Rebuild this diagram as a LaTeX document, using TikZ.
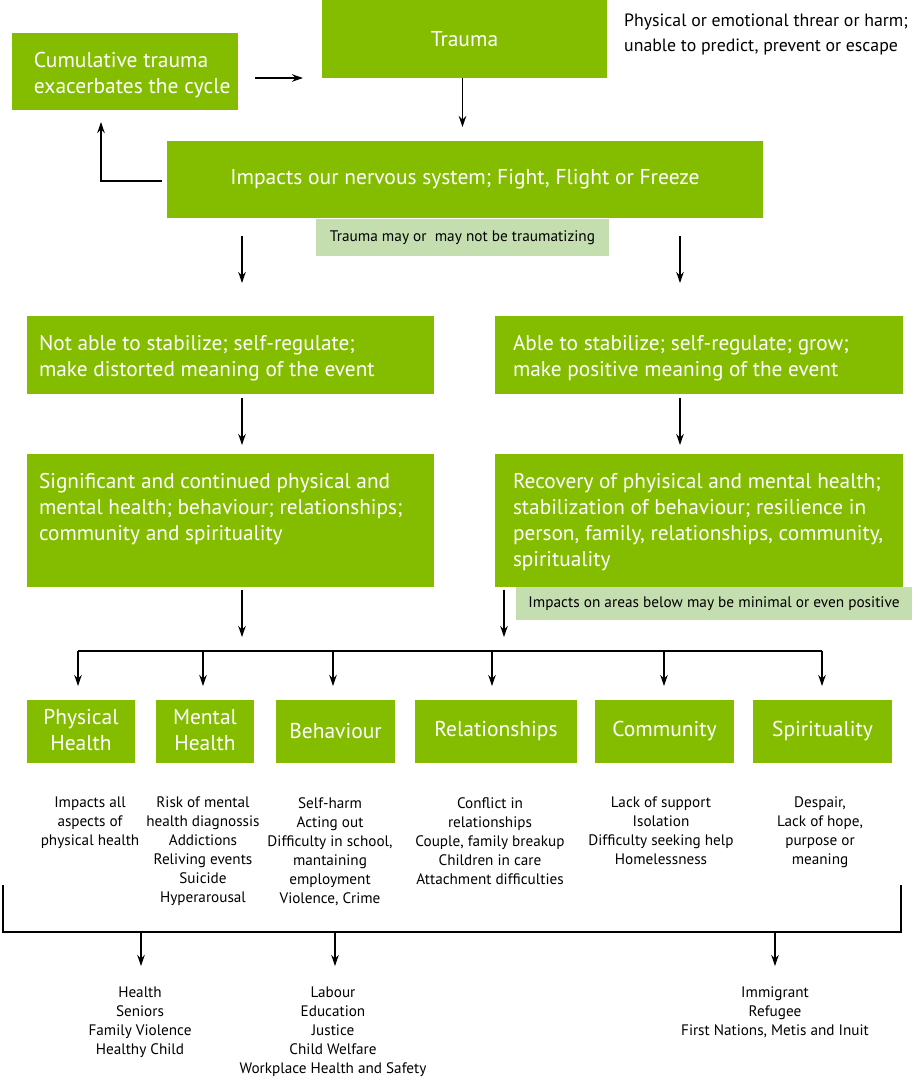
\documentclass[tikz,border=0pt]{standalone}
\usepackage{fontspec}
\setmainfont{PT Sans}
\usetikzlibrary{arrows.meta,calc}
\definecolor{gr}{RGB}{132,189,0}
\definecolor{lg}{RGB}{197,222,176}
\begin{document}
\begin{tikzpicture}[x=1pt,y=-1pt,
  gbox/.style={fill=gr,text=white,inner sep=0pt,outer sep=0pt,align=center,font=\fontsize{21.5}{26}\selectfont},
  tbox/.style={fill=gr,text=white,inner xsep=12pt,inner ysep=0pt,outer sep=0pt,anchor=north west,font=\fontsize{21.3}{26}\selectfont},
  lbox/.style={fill=lg,inner sep=0pt,outer sep=0pt,anchor=north west,font=\fontsize{15.3}{18}\selectfont},
  arr/.style={-{Stealth[length=11pt,width=7.5pt]},line width=1.3pt},
  ln/.style={line width=1.3pt},
  desc/.style={align=center,inner sep=0pt,anchor=north,font=\fontsize{15.2}{19}\selectfont},
]
\fill[white] (0,0) rectangle (924,1080);
\useasboundingbox (0,0) rectangle (924,1080);

% top row
\node[tbox,inner xsep=22pt,font=\fontsize{21.5}{26}\selectfont] (cum) at (12,33) {\parbox[t][77pt][t]{182pt}{\raggedright\rule{0pt}{34pt}\mbox{Cumulative trauma}\\\mbox{exacerbates the cycle}}};
\node[gbox,anchor=north west,minimum width=285pt,minimum height=78pt] (trauma) at (322,0) {Trauma};
\node[inner sep=0pt,anchor=north west,align=left,font=\fontsize{17.8}{25}\selectfont] (side) at (624,14) {Physical or emotional threar or harm;\\unable to predict, prevent or escape};
\node[gbox,anchor=north west,minimum width=596pt,minimum height=77pt] (imp) at (167,141) {Impacts our nervous system; Fight, Flight or Freeze};
\node[lbox,minimum width=293pt,minimum height=37pt] (maynot) at (316,219) {Trauma may or\ \ may not be traumatizing};

\draw[arr] ([xshift=17pt,yshift=-6.5pt]cum.east) -- ([xshift=-19pt,yshift=-6.5pt]cum.east -| trauma.west);
\draw[arr] ([xshift=-2pt]trauma.south) -- ([xshift=-2pt,yshift=14pt]trauma.south |- imp.north);
\draw[arr] ([xshift=-5pt,yshift=-1.5pt]imp.west) -| ([xshift=-24pt,yshift=-12pt]cum.south);

% second level
\node[tbox] (nab) at (27,316) {\parbox[t][78pt][t]{383pt}{\raggedright\rule{0pt}{34pt}Not able to stabilize; self-regulate;\\make distorted meaning of the event}};
\node[tbox,inner xsep=18pt] (ab) at (495,316) {\parbox[t][78pt][t]{372pt}{\raggedright\rule{0pt}{34pt}Able to stabilize; self-regulate; grow;\\make positive meaning of the event}};

\coordinate (aL) at (242,236);
\coordinate (aR) at (680,236);
\draw[arr] (aL) -- ([yshift=33pt]aL |- nab.north);
\draw[arr] (aR) -- ([yshift=33pt]aR |- ab.north);

% third level
\node[tbox] (sig) at (27,454) {\parbox[t][133pt][t]{383pt}{\raggedright\rule{0pt}{34pt}Significant and continued physical and\\mental health; behaviour; relationships;\\community and spirituality}};
\node[tbox,inner xsep=18pt] (rec) at (495,454) {\parbox[t][133pt][t]{372pt}{\raggedright\rule{0pt}{34pt}Recovery of phyisical and mental health;\\stabilization of behaviour; resilience in\\person, family, relationships, community,\\spirituality}};
\node[lbox,minimum width=396pt,minimum height=33pt] (minimal) at (516,587) {Impacts on areas below may be minimal or even positive};

\draw[arr] ([xshift=11.5pt,yshift=-4pt]nab.south) -- ([xshift=11.5pt,yshift=9pt]nab.south |- sig.north);
\draw[arr] ([xshift=-19pt,yshift=-4pt]ab.south) -- ([xshift=-19pt,yshift=9pt]ab.south |- rec.north);

% bottom boxes
\node[gbox,anchor=north west,minimum width=108pt,minimum height=63pt] (ph) at (27,700) {Physical\\Health\rule[-4pt]{0pt}{0pt}};
\node[gbox,anchor=north west,minimum width=98pt,minimum height=63pt] (mh) at (156,700) {Mental\\Health\rule[-4pt]{0pt}{0pt}};
\node[gbox,anchor=north west,minimum width=119pt,minimum height=63pt] (be) at (276,700) {Behaviour};
\node[gbox,anchor=north west,minimum width=162pt,minimum height=63pt] (re) at (415,700) {Relationships};
\node[gbox,anchor=north west,minimum width=139pt,minimum height=63pt] (co) at (595,700) {Community};
\node[gbox,anchor=north west,minimum width=139pt,minimum height=63pt] (sp) at (753,700) {Spirituality};

\coordinate (hl) at (0,651);
\draw[arr] ([xshift=11.5pt,yshift=-3pt]sig.south) -- ([xshift=11.5pt]sig.south |- 0,637);
\draw[arr] ([xshift=-195pt,yshift=-3pt]rec.south) -- ([xshift=-195pt]rec.south |- 0,637);
\draw[ln] ([xshift=-3pt]ph.north |- hl) -- ([xshift=-0.5pt]sp.north |- hl);
\draw[arr] ([xshift=-3pt]ph.north |- hl) -- ([xshift=-3pt,yshift=14pt]ph.north);
\draw[arr] ([xshift=-2pt]mh.north |- hl) -- ([xshift=-2pt,yshift=14pt]mh.north);
\draw[arr] ([xshift=-2.5pt]be.north |- hl) -- ([xshift=-2.5pt,yshift=14pt]be.north);
\draw[arr] ([xshift=-4pt]re.north |- hl) -- ([xshift=-4pt,yshift=14pt]re.north);
\draw[arr] ([xshift=-0.5pt]co.north |- hl) -- ([xshift=-0.5pt,yshift=14pt]co.north);
\draw[arr] ([xshift=-0.5pt]sp.north |- hl) -- ([xshift=-0.5pt,yshift=14pt]sp.north);

% descriptions
\node[desc] (dph) at (90,797) {Impacts all\\aspects of\\physical health};
\node[desc] (dmh) at (203,797) {Risk of mental\\health diagnossis\\Addictions\\Reliving events\\Suicide\\Hyperarousal};
\node[desc] (dbe) at (330,797) {Self-harm\\Acting out\\Difficulty in school,\\mantaining\\employment\\Violence, Crime};
\node[desc] (dre) at (490,797) {Conflict in\\relationships\\Couple, family breakup\\Children in care\\Attachment difficulties};
\node[desc] (dco) at (661,797) {Lack of support\\Isolation\\Difficulty seeking help\\Homelessness};
\node[desc] (dsp) at (820,797) {Despair,\\Lack of hope,\\purpose or\\meaning};

% bracket
\coordinate (bl) at (3,885);
\coordinate (br) at (901,885);
\coordinate (bb) at (0,932);
\draw[ln] (bl) -- (bl |- bb) -- (br |- bb) -- (br);

\node[desc] (g1) at (140,987) {Health\\Seniors\\Family Violence\\Healthy Child};
\node[desc] (g2) at (333,987) {Labour\\Education\\Justice\\Child Welfare\\Workplace Health and Safety};
\node[desc] (g3) at (775,987) {Immigrant\\Refugee\\First Nations, Metis and Inuit};

\draw[arr] ([xshift=1pt]g1.north |- bb) -- ([xshift=1pt,yshift=21pt]g1.north);
\draw[arr] ([xshift=2pt]g2.north |- bb) -- ([xshift=2pt,yshift=21pt]g2.north);
\draw[arr] (g3.north |- bb) -- ([yshift=21pt]g3.north);
\end{tikzpicture}
\end{document}
